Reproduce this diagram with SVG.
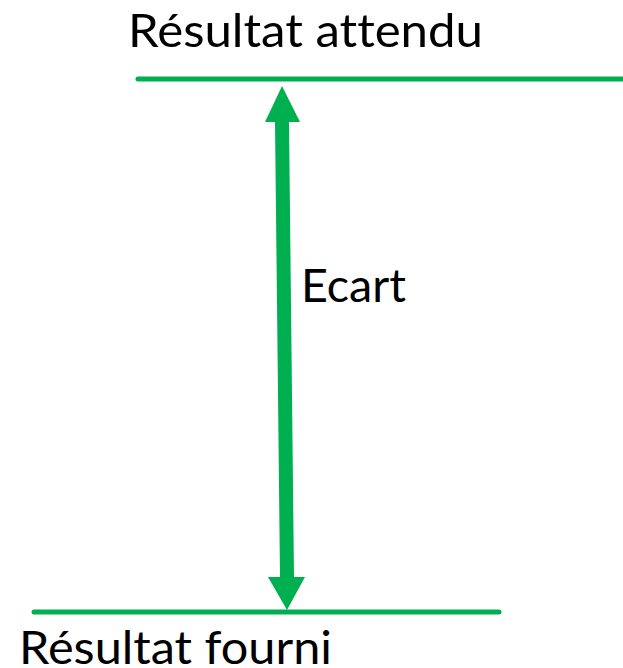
<svg xmlns="http://www.w3.org/2000/svg" width="623" height="668" viewBox="0 0 623 668">
  <style>
    .lbl { font-family: Lato, "Open Sans", "Liberation Sans", sans-serif; font-size: 47px; fill: #000; font-variant-ligatures: none; font-feature-settings: "liga" 0, "dlig" 0; }
    .level { stroke: #00b050; stroke-width: 5; stroke-linecap: round; fill: none; }
    .gap { fill: #00b050; }
  </style>
  <rect width="623" height="668" fill="#fff"/>
  <g id="expected">
    <line class="level" x1="138" y1="79" x2="630" y2="79"/>
    <text class="lbl" x="128" y="47" textLength="355" lengthAdjust="spacingAndGlyphs">Résultat attendu</text>
  </g>
  <g id="actual">
    <line class="level" x1="34" y1="612" x2="499" y2="612"/>
    <text class="lbl" x="19" y="664" textLength="313" lengthAdjust="spacingAndGlyphs">Résultat fourni</text>
  </g>
  <g id="connectors">
    <!-- double-headed gap arrow, slightly tilted -->
    <polygon class="gap" points="282,86 300,122 289,122 294,577 305,577 287,610 268,577 280,577 275,122 265,122"/>
  </g>
  <g id="gap-label">
    <text class="lbl" x="301" y="302" textLength="105" lengthAdjust="spacingAndGlyphs">Ecart</text>
  </g>
</svg>
